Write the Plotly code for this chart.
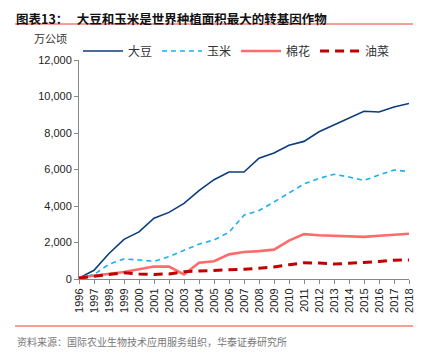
import plotly.graph_objects as go

years = [str(y) for y in range(1996, 2019)]
soybean = [50, 480, 1400, 2170, 2580, 3330, 3650, 4140, 4840, 5440, 5860, 5860, 6620, 6900, 7330, 7540, 8070, 8450, 8820, 9190, 9150, 9430, 9620]
maize = [30, 250, 810, 1100, 1040, 970, 1230, 1570, 1910, 2140, 2560, 3500, 3750, 4220, 4700, 5210, 5510, 5740, 5590, 5400, 5700, 5970, 5890]
cotton = [80, 170, 250, 380, 530, 680, 680, 250, 890, 970, 1350, 1480, 1530, 1610, 2100, 2460, 2400, 2370, 2330, 2310, 2370, 2420, 2480]
canola = [50, 150, 250, 340, 280, 250, 280, 400, 440, 470, 480, 540, 590, 660, 780, 890, 870, 820, 860, 900, 960, 1030, 1040]

names = ["大豆", "玉米", "棉花", "油菜"]
colors = ["#0d3c7c", "#1ab0f0", "#ff6b6b", "#c00000"]
dashes = ["solid", "5px,4px", "solid", "9px,6px"]
widths = [1.6, 1.6, 2.6, 3]

cjk = "Noto Sans CJK SC"
fig = go.Figure()
for name, vals, c, d, w in zip(names, [soybean, maize, cotton, canola], colors, dashes, widths):
    fig.add_trace(go.Scatter(x=years, y=vals, name=name, mode="lines",
                             line=dict(color=c, dash=d, width=w)))

OFF = 8  # page body margin
W, H = 424 - OFF, 356 - OFF
L, R, T, B = 79 - OFF, 23 - OFF, 60 - OFF, 85 - OFF
pw = W - L - R
ph = H - T - B
def px(x):
    return (x - OFF - L) / pw
def py(y):
    return (H - B - (y - OFF)) / ph

fig.update_layout(
    width=W, height=H,
    margin=dict(l=L, r=R, t=T, b=B, autoexpand=False),
    paper_bgcolor="white", plot_bgcolor="white",
    font=dict(family="Liberation Sans, Arial", size=11, color="#222"),
    showlegend=True,
    legend=dict(orientation="h", x=px(78), y=py(51), xanchor="left", yanchor="middle",
                font=dict(family=cjk, size=12, color="#333"), tracegroupgap=0,
                itemwidth=40, bgcolor="rgba(0,0,0,0)"),
    xaxis=dict(type="category", tickangle=-90, showgrid=False, showline=True,
               linecolor="#888", linewidth=1, ticks="outside", ticklen=4, tickcolor="#888",
               tickfont=dict(size=11, color="#222"), automargin=False),
    yaxis=dict(range=[0, 12000], dtick=2000, tickformat=",d", showgrid=False, showline=True,
               linecolor="#888", linewidth=1, ticks="outside", ticklen=4, tickcolor="#888",
               zeroline=False, tickfont=dict(size=11, color="#222"), automargin=False),
    shapes=[
        dict(type="line", xref="paper", yref="paper", x0=px(15), x1=px(413), y0=py(24), y1=py(24),
             line=dict(color="#e8402a", width=1)),
        dict(type="line", xref="paper", yref="paper", x0=px(15), x1=px(413), y0=py(326), y1=py(326),
             line=dict(color="#e8402a", width=1)),
    ],
)

fig.add_annotation(xref="paper", yref="paper", x=px(15), y=py(8.0), xanchor="left", yanchor="top",
                   text="<b>图表13：   大豆和玉米是世界种植面积最大的转基因作物</b>", showarrow=False,
                   borderpad=0, font=dict(family=cjk, size=12.5, color="#111"))
fig.add_annotation(xref="paper", yref="paper", x=px(32), y=py(38), xanchor="left", yanchor="middle",
                   text="万公顷", showarrow=False, font=dict(family=cjk, size=11, color="#333"))
fig.add_annotation(xref="paper", yref="paper", x=px(15), y=py(341), xanchor="left", yanchor="middle",
                   text="资料来源：国际农业生物技术应用服务组织，华泰证券研究所", showarrow=False,
                   font=dict(family=cjk, size=10, color="#777"))

fig.write_html("out.html")
